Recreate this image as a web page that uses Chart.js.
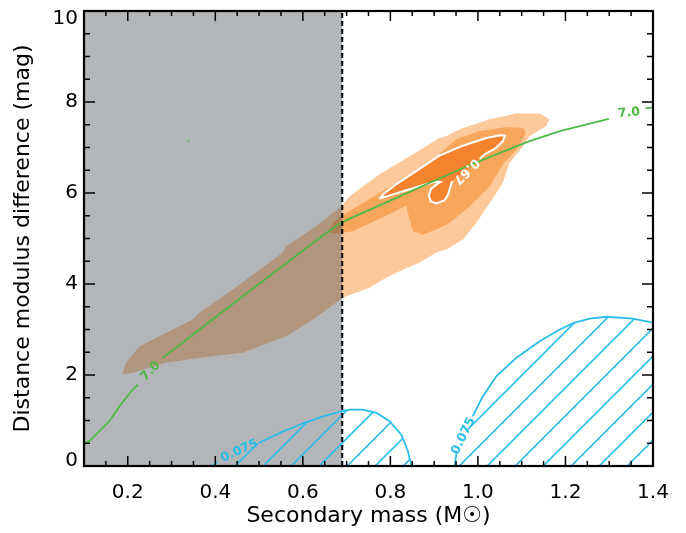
<!DOCTYPE html>
<html><head><meta charset="utf-8">
<script src="https://cdn.jsdelivr.net/npm/chart.js@4.4.0/dist/chart.umd.min.js"></script>
<style>html,body{margin:0;padding:0;background:#fff;}canvas{display:block;}</style>
</head><body>
<canvas id="c" width="686" height="533"></canvas>
<script>
// ---- axis ticks ----
const xTicks = [0.2, 0.4, 0.6, 0.8, 1.0, 1.2, 1.4];
const xTickLabels = ['0.2', '0.4', '0.6', '0.8', '1.0', '1.2', '1.4'];
const yTicks = [0, 2, 4, 6, 8, 10];
const yTickLabels = ['0', '2', '4', '6', '8', '10'];
const xTitle = 'Secondary mass (M\u2609)';
const yTitle = 'Distance modulus difference (mag)';

// ---- excluded mass range (grey) ----
const massCutoff = 0.69;
const excludedRegion = [[0.1, 10], [massCutoff, 10]];
const cutoffLine = [[massCutoff, 0], [massCutoff, 10]];

// ---- probability regions (outer, middle, inner) ----
const lightRegion = [[0.187,2.01],[0.196,2.27],[0.227,2.63],[0.288,2.93],[0.348,3.22],[0.364,3.37],[0.44,3.88],[0.554,4.69],[0.562,4.83],[0.63,5.27],[0.688,5.71],[0.707,5.93],[0.775,6.41],[0.844,6.81],[0.912,7.21],[0.928,7.25],[0.95,7.36],[0.966,7.43],[1.027,7.62],[1.088,7.75],[1.141,7.75],[1.163,7.62],[1.156,7.47],[1.118,7.25],[1.103,7.03],[1.072,6.66],[1.057,6.22],[1.027,5.78],[0.996,5.34],[0.966,4.98],[0.928,4.76],[0.905,4.69],[0.867,4.47],[0.821,4.28],[0.79,4.14],[0.752,3.92],[0.691,3.70],[0.623,3.22],[0.562,2.85],[0.501,2.63],[0.463,2.49],[0.364,2.38],[0.288,2.27],[0.211,2.05]];
const mediumRegion = [[0.657,5.16],[0.668,5.33],[0.688,5.50],[0.737,5.78],[0.813,6.22],[0.889,6.66],[0.95,7.18],[1.004,7.36],[1.065,7.45],[1.103,7.43],[1.11,7.32],[1.088,6.95],[1.057,6.63],[1.027,6.15],[0.981,5.71],[0.935,5.34],[0.905,5.20],[0.874,5.09],[0.851,5.16],[0.844,5.42],[0.836,5.72],[0.79,5.50],[0.752,5.33],[0.714,5.16],[0.688,5.12],[0.668,5.11]];
// 0.67 contour (upper part up to the label, then the part after the label)
const innerUpper = [[0.775,5.88],[0.787,6.0],[0.813,6.19],[0.859,6.48],[0.912,6.82],[0.966,7.04],[1.019,7.21],[1.05,7.27],[1.062,7.26],[1.057,7.14],[1.038,6.97],[1.015,6.85],[1.004,6.75]];
const innerLower = [[0.941,6.26],[0.937,6.14],[0.932,5.97],[0.924,5.84],[0.905,5.77],[0.892,5.82],[0.888,5.95],[0.893,6.09],[0.906,6.19],[0.914,6.24],[0.903,6.25],[0.874,6.17],[0.829,6.04],[0.790,5.92],[0.775,5.88]];

// ---- 7.0 contour (green) ----
const greenContour = [[0.1,0.47],[0.116,0.58],[0.131,0.73],[0.158,0.985],[0.181,1.31],[0.208,1.64],[0.223,1.79],null,[0.28,2.38],[0.44,3.56],[0.639,5.02],[0.688,5.35],[0.729,5.53],[0.806,5.86],[0.889,6.22],[0.966,6.55],[1.042,6.85],[1.118,7.14],[1.187,7.36],[1.299,7.63],null,[1.383,7.86],[1.4,7.88]];
const strayPoint = [[0.339,7.15]];

// ---- 0.075 contours (blue, hatched) ----
const blueLeftA = [[0.39,0.0],[0.405,0.09]];
const blueLeftB = [[0.50,0.51],[0.55,0.74],[0.604,0.95],[0.646,1.09],[0.688,1.20],[0.707,1.24],[0.737,1.24],[0.768,1.17],[0.798,0.985],[0.825,0.69],[0.84,0.33],[0.848,0.0]];
const blueRightA = [[0.947,0.0],[0.951,0.29]];
const blueRightB = [[0.988,1.09],[1.011,1.53],[1.042,1.97],[1.088,2.38],[1.141,2.74],[1.187,3.0],[1.221,3.15],[1.255,3.24],[1.293,3.28],[1.354,3.24],[1.394,3.16],[1.4,3.15]];

// ---- contour labels ----
const labelTexts = ['7.0', '7.0', '0.075', '0.075', '0.67'];
const labelX = [0.252, 1.345, 0.455, 0.967, 0.973];
const labelY = [2.08, 7.76, 0.33, 0.66, 6.48];
const labelAngle = [-45, -6, -24, -64, 135];
const labelKind = ['green', 'green', 'blue', 'blue', 'white'];

const COL = {
  light: '#fdc99b', medium: '#f8a65c', dark: '#f5822f',
  grey: 'rgba(65,72,80,0.4)', green: '#4fb947', blue: '#29bdea', white: '#ffffff'
};

const pts = arr => arr.map(p => p ? {x: p[0], y: p[1]} : {x: null, y: null});

function hatch(color) {
  const s = 28;
  const c = document.createElement('canvas');
  c.width = s; c.height = s;
  const g = c.getContext('2d');
  g.strokeStyle = color; g.lineWidth = 1.6;
  for (const k of [-s, 0, s, 2 * s]) {
    const cc = 1.2 + k;
    g.beginPath(); g.moveTo(cc + s, -s); g.lineTo(cc - 2 * s, 2 * s); g.stroke();
  }
  return g.createPattern(c, 'repeat');
}
const hatchFill = hatch(COL.blue);

function ds(data, o) {
  return Object.assign({data: pts(data), pointRadius: 0, pointHoverRadius: 0, borderWidth: 0,
    borderColor: 'rgba(0,0,0,0)', backgroundColor: 'rgba(0,0,0,0)', fill: false, tension: 0, spanGaps: false}, o);
}

const datasets = [
  ds(cutoffLine, {order: 0, borderColor: '#000', borderWidth: 2, borderDash: [5, 3]}),
  ds(strayPoint, {order: 1, pointRadius: 1, pointBackgroundColor: COL.green, pointBorderWidth: 0, showLine: false}),
  ds(greenContour, {order: 1, borderColor: COL.green, borderWidth: 1.8}),
  ds([...blueLeftA, null, ...blueLeftB], {order: 2, borderColor: COL.blue, borderWidth: 1.8}),
  ds([...blueRightA, null, ...blueRightB], {order: 2, borderColor: COL.blue, borderWidth: 1.8}),
  ds([...blueLeftA, ...blueLeftB], {order: 3, fill: 'origin', backgroundColor: hatchFill}),
  ds([...blueRightA, ...blueRightB], {order: 3, fill: 'origin', backgroundColor: hatchFill}),
  ds(excludedRegion, {order: 4, fill: 'origin', backgroundColor: COL.grey}),
  ds([...innerUpper, null, ...innerLower], {order: 5, borderColor: COL.white, borderWidth: 2}),
  ds([...innerUpper, ...innerLower], {order: 6, fill: 'shape', backgroundColor: COL.dark}),
  ds(mediumRegion, {order: 7, fill: 'shape', backgroundColor: COL.medium}),
  ds(lightRegion, {order: 8, fill: 'shape', backgroundColor: COL.light})
];

const labelPlugin = {
  id: 'contourLabels',
  afterDatasetsDraw(chart) {
    const {ctx, scales: {x, y}} = chart;
    ctx.save();
    ctx.font = 'bold 12.5px "DejaVu Sans"';
    ctx.textAlign = 'center'; ctx.textBaseline = 'middle';
    labelTexts.forEach((t, i) => {
      ctx.save();
      ctx.translate(x.getPixelForValue(labelX[i]), y.getPixelForValue(labelY[i]));
      ctx.rotate(labelAngle[i] * Math.PI / 180);
      ctx.fillStyle = COL[labelKind[i]];
      ctx.fillText(t, 0, 0);
      ctx.restore();
    });
    ctx.restore();
  }
};

const framePlugin = {
  id: 'frameTicks',
  afterDraw(chart) {
    const {ctx, chartArea: a, scales: {x, y}} = chart;
    ctx.save();
    ctx.strokeStyle = '#000';
    ctx.lineWidth = 1.5;
    ctx.beginPath();
    for (let v = 0.15; v < 1.4 - 1e-6; v += 0.05) {
      const major = xTicks.some(t => Math.abs(t - v) < 1e-6);
      const L = major ? 10 : 5;
      const px = x.getPixelForValue(v);
      ctx.moveTo(px, a.bottom); ctx.lineTo(px, a.bottom - L);
      ctx.moveTo(px, a.top); ctx.lineTo(px, a.top + L);
    }
    for (let v = 0.5; v < 10 - 1e-6; v += 0.5) {
      const major = yTicks.some(t => Math.abs(t - v) < 1e-6);
      const L = major ? 11 : 6;
      const py = y.getPixelForValue(v);
      ctx.moveTo(a.left, py); ctx.lineTo(a.left + L, py);
      ctx.moveTo(a.right, py); ctx.lineTo(a.right - L, py);
    }
    ctx.stroke();
    ctx.lineWidth = 2.2;
    ctx.strokeRect(a.left, a.top, a.right - a.left, a.bottom - a.top);
    ctx.restore();
  }
};

Chart.defaults.font.family = '"DejaVu Sans"';
Chart.defaults.color = '#000';

const lastY = yTickLabels.length - 1;

new Chart(document.getElementById('c'), {
  type: 'line',
  data: {datasets},
  plugins: [labelPlugin, framePlugin],
  options: {
    responsive: false, animation: false, devicePixelRatio: 1,
    layout: {padding: {top: 11, right: 33, left: 0, bottom: 0}},
    plugins: {legend: {display: false}, tooltip: {enabled: false}},
    elements: {point: {radius: 0}},
    scales: {
      x: {
        type: 'linear', min: 0.1, max: 1.4,
        grid: {display: false, drawTicks: false}, border: {display: false},
        afterBuildTicks: s => { s.ticks = xTicks.map(v => ({value: v})); },
        afterFit: s => { s.height = 67; s.paddingLeft = 0; s.paddingRight = 0; },
        ticks: {autoSkip: false, maxRotation: 0, padding: 15, font: {size: 20},
          callback: (v, i) => xTickLabels[i]},
        title: {display: true, text: xTitle, font: {size: 22}, padding: {top: 0, bottom: 4}}
      },
      y: {
        type: 'linear', min: 0, max: 10,
        grid: {display: false, drawTicks: false}, border: {display: false},
        afterBuildTicks: s => { s.ticks = yTicks.map(v => ({value: v})); },
        afterFit: s => { s.width = 84; s.paddingTop = 0; s.paddingBottom = 0; },
        ticks: {autoSkip: false, padding: 6,
          font: c => ({size: 20, lineHeight: c.index === 0 ? 0.5 : (c.index === lastY ? 0.8 : 1.2)}),
          callback: (v, i) => i === 0 ? [yTickLabels[i], ''] : (i === lastY ? ['', yTickLabels[i]] : yTickLabels[i])},
        title: {display: true, text: yTitle, font: {size: 22}, padding: {top: 10, bottom: 0}}
      }
    }
  }
});
</script>
</body></html>
